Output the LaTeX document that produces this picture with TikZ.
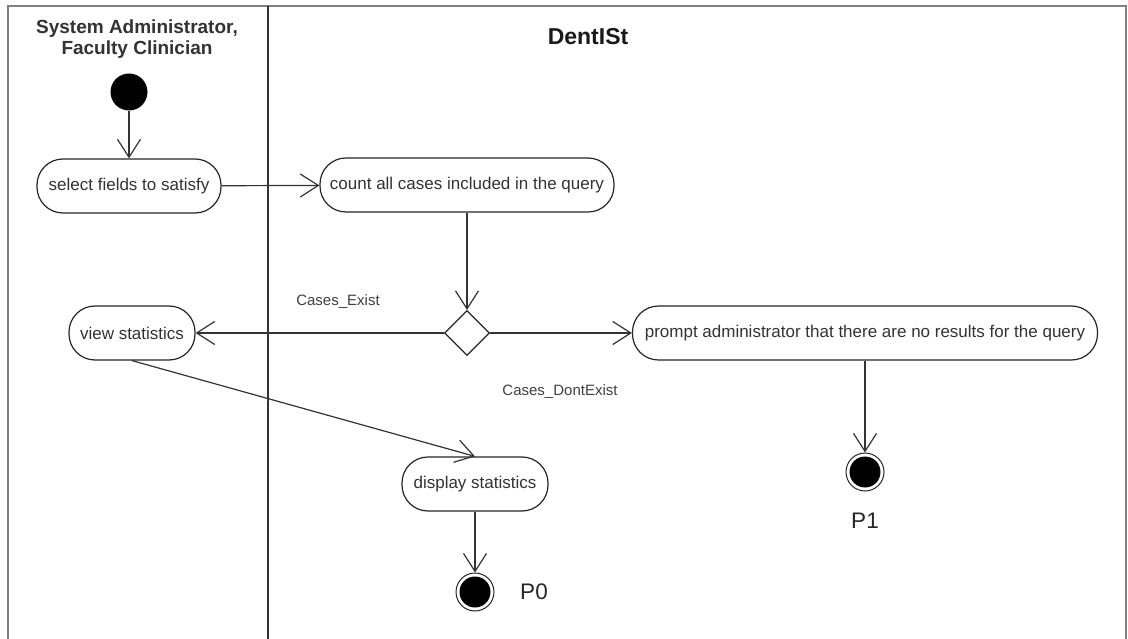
\documentclass[tikz,border=0pt]{standalone}
\usepackage{fontspec}
\setmainfont{Liberation Sans}
\usetikzlibrary{arrows.meta,shapes.geometric}
\begin{document}
\begin{tikzpicture}[x=1pt,y=-1pt,
  line width=1.2pt,
  flow/.style={draw=black!80,-{Straight Barb[length=18pt,width=23pt,line width=1.2pt]}},
  activity/.style={draw=black!85,rectangle,rounded corners=26pt,minimum height=54pt,inner xsep=6pt,
    font=\fontsize{17}{20}\selectfont,text=black!80},
  guardlbl/.style={font=\fontsize{15}{18}\selectfont,text=black!75},
  endlbl/.style={font=\fontsize{22.5}{26}\selectfont,text=black!85},
]
\useasboundingbox (0,0) rectangle (1128,639);
\fill[white] (0,0) rectangle (1128,639);

% swimlane frame
\draw[line width=2.6pt,black!50] (8,639) -- (8,6) -- (1126,6) -- (1126,639);
\draw[line width=1.6pt,black!80] (268,6) -- (268,639);

% lane headers
\node[font=\bfseries\fontsize{19}{21}\selectfont,text=black!80,align=center] (lane1) at (137,39.5) {System Administrator,\\Faculty Clinician};
\node[font=\bfseries\fontsize{23}{27}\selectfont,text=black!90] (lane2) at (588,37) {DentISt};

% initial node
\node[circle,fill=black,minimum size=37pt,inner sep=0pt] (start) at (129,92) {};

% activities
\node[activity,minimum width=184pt] (select) at (129,186) {select fields to satisfy};
\node[activity,minimum width=294pt] (count) at (467,185) {count all cases included in the query};
\node[diamond,draw=black!85,minimum width=45pt,minimum height=45pt,inner sep=0pt,line width=1.1pt] (dec) at (467,333) {};
\node[activity,minimum width=126pt] (view) at (132,333) {view statistics};
\node[activity,minimum width=465pt] (prompt) at (865,333) {prompt administrator that there are no results for the query};
\node[activity,minimum width=146pt] (display) at (475,484) {display statistics};

% final nodes
\node[circle,draw=black!85,line width=1pt,minimum size=38pt,inner sep=0pt] (end0) at (475,592) {};
\fill[black] (end0.center) circle (15.5pt);
\node[endlbl] (p0lbl) at (534,592) {P0};
\node[circle,draw=black!85,line width=1pt,minimum size=38pt,inner sep=0pt] (end1) at (865,472) {};
\fill[black] (end1.center) circle (15.5pt);
\node[endlbl] (p1lbl) at (865,521) {P1};

% guard labels
\node[guardlbl] (gexist) at (338,302) {Cases\_Exist};
\node[guardlbl] (gnone) at (560,392) {Cases\_DontExist};

% transitions
\draw[flow] (start) -- (select);
\draw[flow] (select) -- (count);
\draw[flow] (count) -- (dec);
\draw[flow] (dec.west) -- (view.east);
\draw[flow] (dec.east) -- (prompt.west);
\draw[flow] (view.south) -- (display.north);
\draw[flow] (display) -- (end0);
\draw[flow] (prompt) -- (end1);
\end{tikzpicture}
\end{document}
